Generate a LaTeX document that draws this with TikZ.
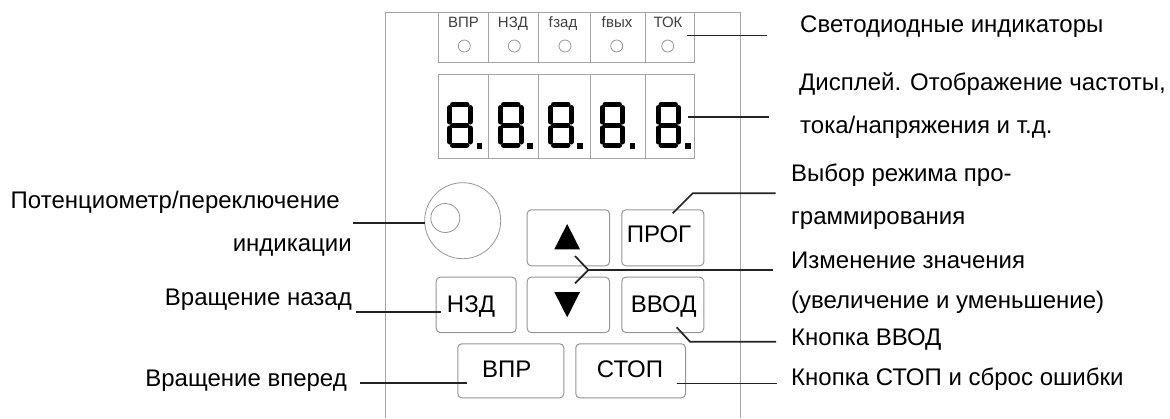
\documentclass[tikz,border=0pt]{standalone}
\usepackage{fontspec}
\setmainfont{Liberation Sans}
\usetikzlibrary{positioning, calc}
\definecolor{paneledge}{RGB}{165,165,165}
\definecolor{keyedge}{RGB}{150,150,150}
\definecolor{leadline}{RGB}{35,35,35}
\newcommand{\segdigit}[2]{%
  \foreach \y in {104.5,125,145}
    \draw[seg] (#1+5.5,\y) -- (#1+20,\y);
  \foreach \x in {2.6,23} {
    \draw[seg] (#1+\x,107.5) -- (#1+\x,122);
    \draw[seg] (#1+\x,128) -- (#1+\x,142);
  }
  \fill[black] (#2-2.8,143) rectangle (#2+2.8,149);}

\begin{document}
\begin{tikzpicture}[x=1pt, y=-1pt,
    seg/.style={line width=5pt, line cap=round, black},
    cell/.style={draw=paneledge, line width=1pt},
    led/.style={circle, draw=keyedge, line width=0.8pt, minimum size=12pt, inner sep=0pt},
    ledlabel/.style={font=\fontsize{15}{17}\selectfont, text=black!75, inner sep=0pt, anchor=base},
    key/.style={draw=keyedge, line width=1pt, rounded corners=4pt, inner sep=0pt, anchor=north west},
    keytext/.style={font=\fontsize{24}{26}\selectfont, inner sep=0pt, anchor=base},
    caption/.style={font=\fontsize{24}{26}\selectfont, inner sep=0pt, anchor=base west},
    captionl/.style={caption, anchor=base east},
    lead/.style={draw=leadline, line width=1.7pt}]
  \useasboundingbox (0,0) rectangle (1170,418);
  \fill[white] (0,0) rectangle (1170,418);
  % panel outline
  \draw[paneledge, line width=1.1pt] (385.5,418) -- (385.5,12.5) -- (740.7,12.5) -- (740.7,418);
  % indicator and display strips
  \draw[cell] (438.3,12.5) rectangle (694,62);
  \draw[cell] (438.3,74) rectangle (694,158);
  \foreach \x in {488.3,538.3,590,645.7}
    \draw[cell] (\x,12.5) -- (\x,62) (\x,74) -- (\x,158);
  \foreach \x/\lx/\name/\txt in {464.3/463.5/vpr/ВПР, 514.3/513/nzd/НЗД, 565/563/fset/f\kern0.5pt зад,
      616.7/617/fout/f\kern0.5pt вых, 667.7/668/tok/ТОК} {
    \node[ledlabel] (lbl\name) at (\lx,27.3) {\txt};
    \node[led] (led\name) at (\x,46) {};
  }
  \segdigit{447}{479.5}
  \segdigit{498}{530}
  \segdigit{548}{580}
  \segdigit{599.5}{632.5}
  \segdigit{655.5}{688}
  % knob
  \node[circle, draw=keyedge, line width=0.8pt, minimum size=76pt, inner sep=0pt] (knob) at (462.7,220.7) {};
  \node[circle, draw=keyedge, line width=0.8pt, minimum size=29pt, inner sep=0pt] (knobin) at (445.3,218) {};
  % keys
  \node[key, minimum width=82.3pt, minimum height=56pt] (up) at (526.7,209.3) {};
  \node[key, minimum width=82pt, minimum height=56pt] (prog) at (621.3,209.3) {};
  \node[key, minimum width=80pt, minimum height=55.3pt] (nzd) at (435.7,276.7) {};
  \node[key, minimum width=82.3pt, minimum height=55.3pt] (down) at (526.7,276.7) {};
  \node[key, minimum width=82pt, minimum height=55.3pt] (vvod) at (621.3,276.7) {};
  \node[key, minimum width=106pt, minimum height=54pt] (vpr) at (457.3,343.3) {};
  \node[key, minimum width=109.7pt, minimum height=54pt] (stop) at (575.3,343.3) {};
  \node[keytext] (progtxt) at (659,242.7) {ПРОГ};
  \node[keytext] (nzdtxt) at (471,312) {НЗД};
  \node[keytext] (vvodtxt) at (663.7,312) {ВВОД};
  \node[keytext] (vprtxt) at (506.7,377.3) {ВПР};
  \node[keytext] (stoptxt) at (630,377.3) {СТОП};
  \fill (554.3,249.3) -- (567.2,224) -- (580,249.3) -- cycle;
  \fill (554.3,292) -- (567.2,317.3) -- (580,292) -- cycle;
  % captions
  \node[caption] (capled) at (800,32.7) {Светодиодные индикаторы};
  \node[caption] (capdisp) at (799,90) {Дисплей. Отображение частоты,};
  \node[caption] (capdispb) at (800,133.3) {тока/напряжения и т.д.};
  \node[caption] (capprog) at (791,181.7) {Выбор режима про-};
  \node[caption] (capprogb) at (791,224) {граммирования};
  \node[caption] (capval) at (791,268) {Изменение значения};
  \node[caption] (capvalb) at (791,308.3) {(увеличение и уменьшение)};
  \node[caption] (capvvod) at (791,345) {Кнопка ВВОД};
  \node[caption] (capstop) at (791,385) {Кнопка СТОП и сброс ошибки};
  \node[captionl] (capknob) at (340,208.3) {Потенциометр/переключение};
  \node[captionl] (capknobb) at (352,251) {индикации};
  \node[captionl] (capback) at (352,305) {Вращение назад};
  \node[captionl] (capfwd) at (347,386) {Вращение вперед};
  % leader ends
  \coordinate (aled) at (686.7,35.5);
  \coordinate (bled) at (767,35.5);
  \coordinate (adisp) at (688,117.3);
  \coordinate (bdisp) at (769,117.3);
  \coordinate (aprog) at (672.7,213.3);
  \coordinate (kprog) at (692.7,193.3);
  \coordinate (bprog) at (775.7,193.3);
  \coordinate (aup) at (575,256);
  \coordinate (adown) at (575,283.3);
  \coordinate (kval) at (588.3,270);
  \coordinate (bval) at (773,270);
  \coordinate (avvod) at (676.7,327.3);
  \coordinate (kvvod) at (690,341.7);
  \coordinate (bvvod) at (776,341.7);
  \coordinate (astop) at (677.3,383.5);
  \coordinate (bstop) at (777,383.5);
  \coordinate (aknob) at (425,222.7);
  \coordinate (bknob) at (353,222.7);
  \coordinate (anzd) at (440.7,312.3);
  \coordinate (bnzd) at (356,312.3);
  \coordinate (avpr) at (466.7,383.3);
  \coordinate (bvpr) at (360,383.3);
  \draw[lead] (aled) -- (bled);
  \draw[lead] (adisp) -- (bdisp);
  \draw[lead] (aprog) -- (kprog) -- (bprog);
  \draw[lead] (aup) -- (kval) -- (adown);
  \draw[lead] (kval) -- (bval);
  \draw[lead] (avvod) -- (kvvod) -- (bvvod);
  \draw[lead] (astop) -- (bstop);
  \draw[lead] (aknob) -- (bknob);
  \draw[lead] (anzd) -- (bnzd);
  \draw[lead] (avpr) -- (bvpr);
\end{tikzpicture}
\end{document}
